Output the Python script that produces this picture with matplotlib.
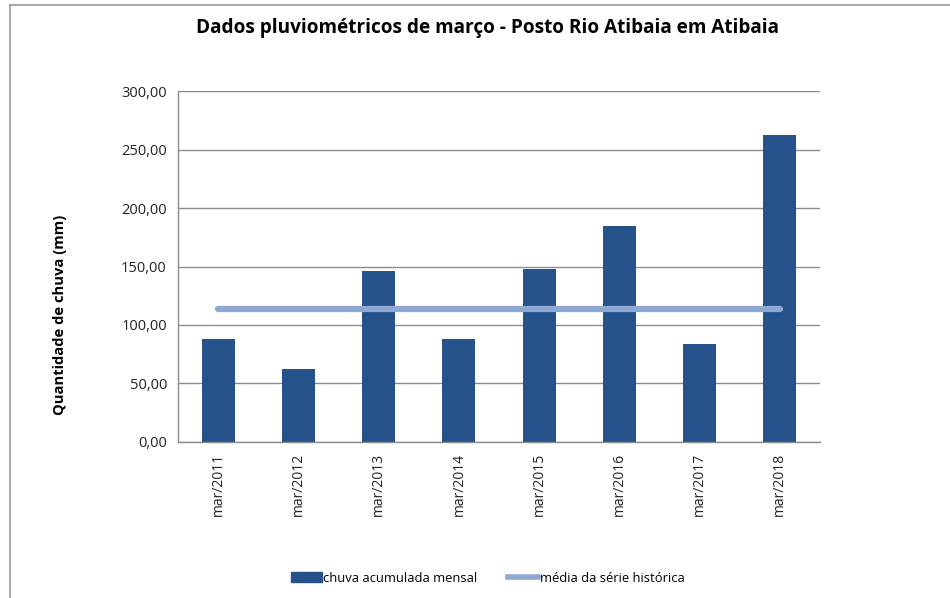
import matplotlib
matplotlib.use("Agg")
import matplotlib.pyplot as plt
from matplotlib.lines import Line2D
from matplotlib.patches import Patch

categories = ["mar/2011", "mar/2012", "mar/2013", "mar/2014",
              "mar/2015", "mar/2016", "mar/2017", "mar/2018"]
chuva = [87.9, 62.2, 146.1, 87.9, 147.8, 184.8, 83.6, 262.5]
media = [113.9] * len(categories)
yticks = [0, 50, 100, 150, 200, 250, 300]
ytick_labels = ["0,00", "50,00", "100,00", "150,00", "200,00", "250,00", "300,00"]

plt.rcParams['font.family'] = ['Open Sans', 'DejaVu Sans']

W, H = 950, 598
fig = plt.figure(figsize=(W / 100, H / 100), dpi=100)
ax = fig.add_axes([178 / W, 1 - 441.7 / H, (820 - 178) / W, (441.7 - 91.3) / H])

bar_color = "#25528A"
line_color = "#8EA8D4"
grid_color = "#8C8C8C"

x = list(range(len(categories)))
ax.set_axisbelow(True)
ax.bar(x, chuva, width=0.41, color=bar_color, zorder=2)
ax.plot(x, media, color=line_color, linewidth=4.5, solid_capstyle="round", zorder=3)

ax.set_xlim(-0.5, len(categories) - 0.5)
ax.set_ylim(0, 300)
ax.set_yticks(yticks)
ax.set_yticklabels(ytick_labels, fontsize=10.5, color="#222222")
ax.set_xticks(x)
ax.set_xticklabels(categories, rotation=90, fontsize=10, color="#222222")
ax.tick_params(axis="both", length=0)
ax.tick_params(axis="y", pad=8)
ax.tick_params(axis="x", pad=8)
ax.yaxis.grid(True, color=grid_color, linewidth=1)
for s in ["top", "right"]:
    ax.spines[s].set_visible(False)
for s in ["left", "bottom"]:
    ax.spines[s].set_color(grid_color)
    ax.spines[s].set_linewidth(1)

fig.text(60 / W, 1 - 315 / H, "Quantidade de chuva (mm)", rotation=90,
         ha="center", va="center", fontsize=10.6, fontweight="bold")

fig.text(487 / W, 1 - 28 / H, "Dados pluviométricos de março - Posto Rio Atibaia em Atibaia",
         ha="center", va="center", fontsize=13.7, fontweight="bold")

handles = [Patch(facecolor=bar_color, edgecolor=bar_color),
           Line2D([0], [0], color=line_color, linewidth=4)]
fig.legend(handles, ["chuva acumulada mensal", "média da série histórica"],
           loc="center", bbox_to_anchor=(488 / W, 1 - 578 / H), ncol=2, frameon=False,
           fontsize=9.4, handlelength=2.3, handletextpad=0.1, columnspacing=2.4)

# figure border (top and left only)
fig.add_artist(Line2D([10 / W, 10 / W], [0, 1 - 4.5 / H], color="#999999", linewidth=1.2,
                      transform=fig.transFigure))
fig.add_artist(Line2D([10 / W, 1], [1 - 4.5 / H, 1 - 4.5 / H], color="#999999", linewidth=1.2,
                      transform=fig.transFigure))

fig.savefig("out.png", dpi=100, facecolor="white")
